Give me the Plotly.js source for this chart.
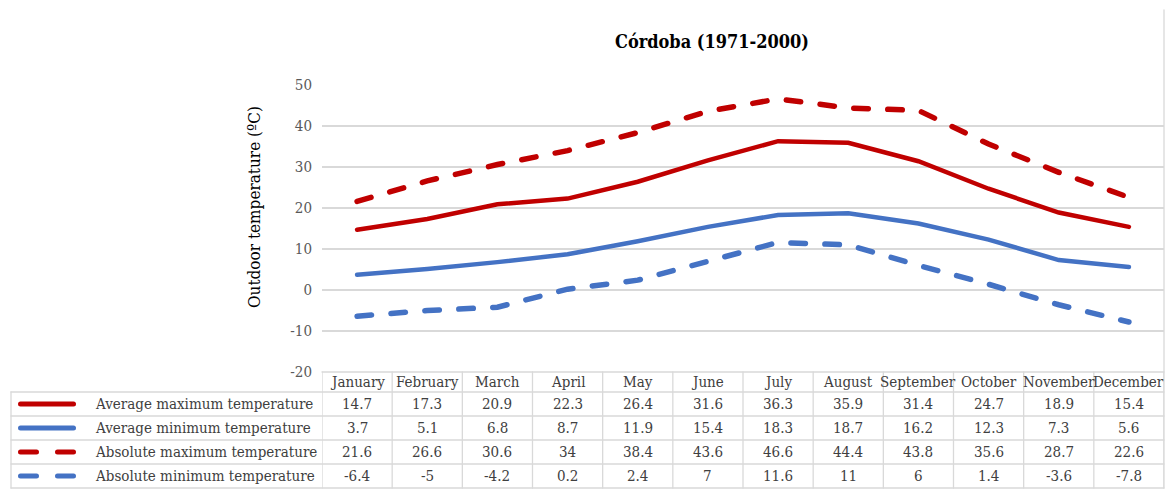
<!DOCTYPE html>
<html>
<head>
<meta charset="utf-8">
<script src="https://cdn.plot.ly/plotly-3.0.1.min.js"></script>
<style>
  html, body { margin: 0; padding: 0; background: #fff; }
  #chart { width: 1167px; height: 491px; }
  .js-line { stroke-linecap: round; }
  .shapelayer path { stroke-linecap: round; }
</style>
</head>
<body>
<div id="chart"></div>
<script>
const months = ["January","February","March","April","May","June","July","August","September","October","November","December"];
const avgMax = [14.7, 17.3, 20.9, 22.3, 26.4, 31.6, 36.3, 35.9, 31.4, 24.7, 18.9, 15.4];
const avgMin = [3.7, 5.1, 6.8, 8.7, 11.9, 15.4, 18.3, 18.7, 16.2, 12.3, 7.3, 5.6];
const absMax = [21.6, 26.6, 30.6, 34, 38.4, 43.6, 46.6, 44.4, 43.8, 35.6, 28.7, 22.6];
const absMin = [-6.4, -5, -4.2, 0.2, 2.4, 7, 11.6, 11, 6, 1.4, -3.6, -7.8];
const seriesNames = ["Average maximum temperature","Average minimum temperature","Absolute maximum temperature","Absolute minimum temperature"];
const yTicks = [-20, -10, 0, 10, 20, 30, 40, 50];

const RED = "#C00000", BLUE = "#4472C4", GRID = "#D9D9D9", TXT = "#404040";
const FONT = "'DejaVu Serif Condensed', 'Liberation Serif', serif";

const series = [
  {name: seriesNames[0], y: avgMax, color: RED, dashed: false},
  {name: seriesNames[1], y: avgMin, color: BLUE, dashed: false},
  {name: seriesNames[2], y: absMax, color: RED, dashed: true},
  {name: seriesNames[3], y: absMin, color: BLUE, dashed: true}
];

// figure geometry
const W = 1167, H = 491, L = 322, R = 1164, T = 85, B = 372;
const fx = px => (px - L) / (R - L);
const fy = py => (B - py) / (B - T);

const traces = series.map(s => ({
  type: "scatter", mode: "lines", x: months, y: s.y, name: s.name,
  line: s.dashed ? {color: s.color, width: 5.5, dash: "14.5px,19.5px"}
                 : {color: s.color, width: 4.5, dash: "solid"},
  hoverinfo: "x+y+name", showlegend: false
}));

const rowTop = [392, 416, 440, 464];
const rowH = 24;
const tableBottom = rowTop[3] + rowH;
const shapes = [];
const annotations = [];
const gl = {color: GRID, width: 1.3};
const tfont = {family: FONT, size: 15, color: TXT};

// vertical column lines
for (let i = 0; i <= months.length; i++) {
  shapes.push({type: "line", xref: "x", yref: "paper", x0: i - 0.5, x1: i - 0.5, y0: fy(B), y1: fy(tableBottom), line: gl});
}
// left legend column border
shapes.push({type: "line", xref: "paper", yref: "paper", x0: fx(11), x1: fx(11), y0: fy(rowTop[0]), y1: fy(tableBottom), line: gl});
// header top
shapes.push({type: "line", xref: "paper", yref: "paper", x0: 0, x1: 1, y0: fy(B), y1: fy(B), line: gl});
// row lines
[...rowTop, tableBottom].forEach(py => {
  shapes.push({type: "line", xref: "paper", yref: "paper", x0: fx(11), x1: 1, y0: fy(py), y1: fy(py), line: gl});
});
// outer right border
shapes.push({type: "line", xref: "paper", yref: "paper", x0: 1, x1: 1, y0: fy(10), y1: fy(tableBottom), line: gl});

// header
months.forEach(m => annotations.push({
  xref: "x", yref: "paper", x: m, y: fy(382), text: m, showarrow: false,
  xanchor: "center", yanchor: "middle", font: tfont
}));
// rows
series.forEach((s, r) => {
  const cy = fy(rowTop[r] + rowH / 2);
  s.y.forEach((v, i) => annotations.push({
    xref: "x", yref: "paper", x: months[i], y: cy, text: String(v), showarrow: false,
    xanchor: "center", yanchor: "middle", font: tfont
  }));
  annotations.push({
    xref: "paper", yref: "paper", x: fx(93), y: cy, text: s.name, showarrow: false,
    xanchor: "left", yanchor: "middle", font: tfont
  });
  shapes.push({
    type: "line", xref: "paper", yref: "paper", x0: fx(20.5), x1: fx(73.5), y0: cy, y1: cy,
    line: {color: s.color, width: 5, dash: s.dashed ? "16px,21px" : "solid"}
  });
});

// title
annotations.push({
  xref: "paper", yref: "paper", x: fx(712), y: fy(42), text: "<b>Córdoba (1971-2000)</b>", showarrow: false,
  xanchor: "center", yanchor: "middle", font: {family: FONT, size: 18, color: "#000"}
});
// y-axis title
annotations.push({
  xref: "paper", yref: "paper", x: fx(254), y: fy(207), text: "Outdoor temperature (ºC)", showarrow: false,
  textangle: -90, xanchor: "center", yanchor: "middle", font: {family: FONT, size: 17, color: "#000"}
});

const layout = {
  width: W, height: H,
  margin: {l: L, r: W - R, t: T, b: H - B, pad: 0},
  paper_bgcolor: "#fff", plot_bgcolor: "#fff",
  showlegend: false,
  xaxis: {
    type: "category", range: [-0.5, 11.5], showgrid: false, showticklabels: false,
    zeroline: false, showline: false, ticks: "", fixedrange: true
  },
  yaxis: {
    range: [-20, 50], tickvals: yTicks, ticktext: yTicks.map(String),
    showgrid: true, gridcolor: GRID, gridwidth: 1.3, zeroline: false, showline: false,
    ticks: "", ticklabelstandoff: 9,
    tickfont: {family: FONT, size: 15, color: "#595959"},
    automargin: false, fixedrange: true
  },
  shapes: shapes,
  annotations: annotations
};

Plotly.newPlot("chart", traces, layout, {displayModeBar: false, staticPlot: true});
</script>
</body>
</html>
